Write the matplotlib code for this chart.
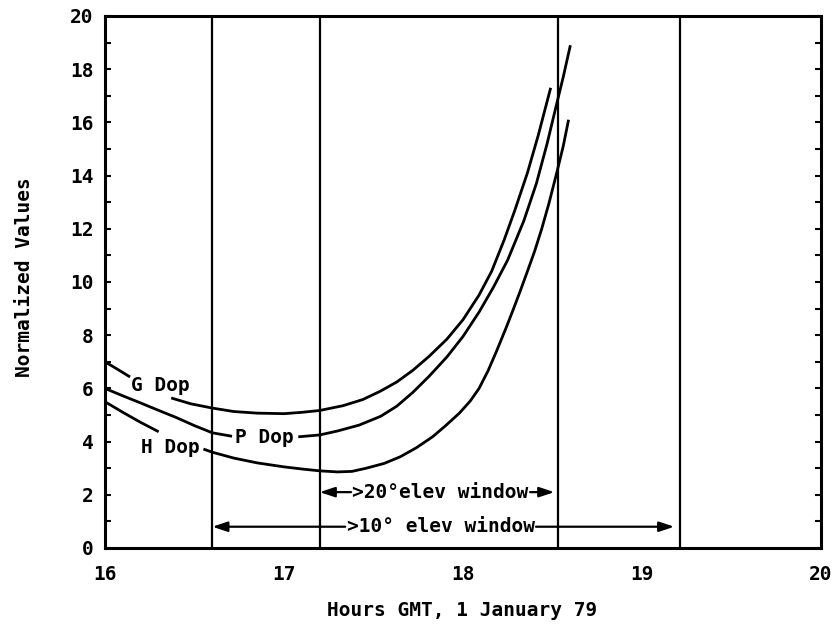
import numpy as np
import matplotlib
matplotlib.use("Agg")
import matplotlib.pyplot as plt
from matplotlib.ticker import MultipleLocator

# ---- data ----
gdop_x = [16.00, 16.07, 16.14, np.nan,
          16.37, 16.48, 16.60, 16.72, 16.85, 17.00, 17.10, 17.20, 17.33, 17.44,
          17.54, 17.63, 17.72, 17.81, 17.91, 18.00, 18.09, 18.16, 18.23, 18.29,
          18.36, 18.42, 18.49]
gdop_y = [7.0, 6.72, 6.43, np.nan,
          5.64, 5.42, 5.26, 5.13, 5.07, 5.05, 5.10, 5.17, 5.35, 5.58,
          5.90, 6.24, 6.68, 7.20, 7.85, 8.58, 9.51, 10.40, 11.58, 12.70,
          14.10, 15.50, 17.30]

pdop_x = [16.00, 16.10, 16.20, 16.29, 16.40, 16.50, 16.60, 16.71, np.nan,
          17.08, 17.20, 17.30, 17.42, 17.54, 17.63, 17.72, 17.81, 17.91, 18.00,
          18.09, 18.17, 18.25, 18.34, 18.41, 18.47, 18.52, 18.56, 18.60]
pdop_y = [6.0, 5.72, 5.45, 5.20, 4.90, 4.60, 4.33, 4.20, np.nan,
          4.18, 4.25, 4.40, 4.62, 4.95, 5.33, 5.85, 6.45, 7.18, 7.95,
          8.87, 9.80, 10.83, 12.30, 13.70, 15.20, 16.60, 17.70, 18.90]

hdop_x = [16.00, 16.10, 16.20, 16.30, np.nan,
          16.55, 16.60, 16.72, 16.85, 17.00, 17.10, 17.20, 17.30, 17.38, 17.46,
          17.56, 17.65, 17.74, 17.83, 17.90, 17.98, 18.04, 18.09, 18.14, 18.19,
          18.24, 18.28, 18.32, 18.36, 18.40, 18.44, 18.48, 18.52, 18.56, 18.59]
hdop_y = [5.5, 5.10, 4.72, 4.37, np.nan,
          3.72, 3.60, 3.38, 3.20, 3.05, 2.97, 2.90, 2.86, 2.88, 3.00,
          3.18, 3.43, 3.77, 4.18, 4.58, 5.07, 5.52, 6.00, 6.66, 7.44,
          8.26, 8.95, 9.66, 10.40, 11.15, 12.00, 12.95, 14.00, 15.10, 16.10]

curve_labels = ["G Dop", "P Dop", "H Dop"]
label_x = [16.31, 16.89, 16.365]
label_y = [6.12, 4.17, 3.76]

window_lines = [16.6, 17.2, 18.53, 19.21]
elev20 = (17.2, 18.51, 2.1, ">20°elev window", 17.875)
elev10 = (16.6, 19.18, 0.8, ">10° elev window", 17.875)

x_ticks = [16, 17, 18, 19, 20]
y_ticks = list(range(0, 21, 2))

# ---- figure ----
FONT = "DejaVu Sans Mono"
FS = 14
fig = plt.figure(figsize=(8.35, 6.27), dpi=100)
ax = fig.add_axes([0.1257, 0.126, 0.8575, 0.8485])

ax.set_xlim(16, 20)
ax.set_ylim(0, 20)

for xv in window_lines:
    ax.axvline(xv, color="black", lw=1.6)

for xs, ys in [(gdop_x, gdop_y), (pdop_x, pdop_y), (hdop_x, hdop_y)]:
    ax.plot(xs, ys, color="black", lw=2.0, solid_capstyle="butt",
            solid_joinstyle="round")

for t, lx, ly in zip(curve_labels, label_x, label_y):
    ax.text(lx, ly, t, ha="center", va="center", fontsize=FS,
            family=FONT, fontweight="bold")

# window annotations
for (x0, x1, yy, txt, xc) in [elev20, elev10]:
    t = ax.text(xc, yy, txt, ha="center", va="center", fontsize=FS,
                family=FONT, fontweight="bold")
    fig.canvas.draw()
    bb = t.get_window_extent().transformed(ax.transData.inverted())
    for tip, base in [(x0, bb.x0), (x1, bb.x1)]:
        ax.annotate("", xy=(tip, yy), xytext=(base, yy),
                    arrowprops=dict(arrowstyle="-|>,head_length=0.9,head_width=0.3",
                                    color="black", lw=1.6,
                                    shrinkA=1, shrinkB=0))

ax.set_xticks(x_ticks)
ax.set_yticks(y_ticks)
ax.yaxis.set_minor_locator(MultipleLocator(1))
ax.tick_params(axis="y", which="both", direction="in", left=True, right=True,
               length=4, width=1.5, labelsize=FS, pad=8)
ax.tick_params(axis="x", which="both", direction="in", length=0,
               labelsize=FS, pad=12)
for lab in ax.get_xticklabels() + ax.get_yticklabels():
    lab.set_family(FONT)
    lab.set_fontweight("bold")

for sp in ax.spines.values():
    sp.set_linewidth(2.2)

ax.set_xlabel("Hours GMT, 1 January 79", fontsize=FS, family=FONT,
              fontweight="bold")
ax.set_ylabel("Normalized Values", fontsize=FS, family=FONT,
              fontweight="bold")
ax.xaxis.set_label_coords(0.499, -0.1005)
ax.yaxis.set_label_coords(-0.099, 0.51)

fig.savefig("out.png", dpi=100)
